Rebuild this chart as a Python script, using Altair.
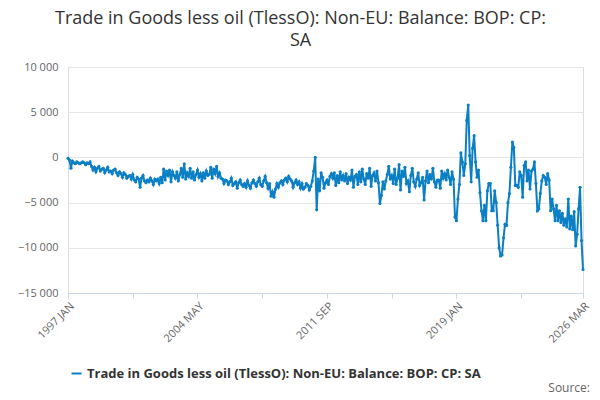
import altair as alt
import pandas as pd

title = ["Trade in Goods less oil (TlessO): Non-EU: Balance: BOP: CP:", "SA"]
series_name = "Trade in Goods less oil (TlessO): Non-EU: Balance: BOP: CP: SA"

values = [
    -100, -300, -1200, -400, -600, -700, -500, -600, -700, -600, -500, -600,
    -800, -600, -700, -500, -1000, -1400, -1100, -1600, -1200, -1000, -1500, -1300,
    -1200, -1700, -1400, -1100, -1600, -1500, -1800, -1400, -1300, -1700, -2000, -1600,
    -1800, -2200, -1700, -1900, -2300, -2100, -2000, -2400, -1900, -2500, -2700, -2200,
    -2400, -3300, -2300, -2000, -2600, -2800, -2500, -2700, -2300, -2600, -3000, -2400,
    -2600, -2400, -2900, -2200, -2800, -1300, -2500, -1500, -2000, -1400, -2700, -1600,
    -2000, -2300, -1600, -2600, -1900, -1200, -2200, -700, -2400, -1700, -2100, -1200,
    -2300, -1600, -2500, -1900, -1400, -2200, -1800, -2600, -1700, -2300, -1500, -2000,
    -1900, -1100, -2300, -1300, -1800, -1000, -2100, -1700, -2300, -2400, -2900, -2500,
    -2600, -3000, -2700, -2300, -3100, -2900, -2700, -3400, -2800, -2500, -3000, -3200,
    -2900, -3300, -2600, -3100, -3400, -2800, -2500, -2900, -3200, -2700, -2300, -3000,
    -3200, -2600, -2100, -2800, -3400, -2900, -4300, -3800, -4400, -3500, -2900, -3300,
    -2800, -2600, -3000, -2500, -2300, -2700, -2100, -2400, -2600, -3300, -2800, -2500,
    -3000, -2700, -3400, -2900, -3500, -3300, -2900, -3100, -3600, -3200, -2600, -1500,
    0, -5800, -2400, -3700, -1700, -2200, -3400, -2800, -2500, -3000, -2100, -1800,
    -2300, -1700, -3100, -2000, -2800, -1600, -2500, -2000, -2600, -1800, -2900, -2200,
    -2500, -1400, -3300, -2100, -1900, -3000, -1600, -2700, -1300, -2400, -3000, -1800,
    -2300, -1200, -3200, -2000, -1700, -2600, -1500, -2800, -5100, -4200, -2700, -3500,
    -2600, -1900, -1000, -2400, -2000, -2900, -1300, -3000, -2300, -800, -3600, -1500,
    -2100, -1100, -2900, -2600, -3800, -2000, -1200, -2700, -3200, -2400, -1700, -3100,
    -2800, -2200, -4700, -2600, -1500, -2800, -1900, -2400, -1200, -2700, -3300, -2500,
    -2500, -3400,
    -1500, -2300, -1800, -2500, -1400, -2200, -3000, -1600, -2400,
    -6600, -7000, -4600, -3000, 500, -500, -2000, -700, 4100, 5800,
    200, -2700, 1000, 2400, -500, -2200, -1400, -3900, -5900, -7000,
    -5300, -7000, -3700, -2900, -2900, -5900, -5900, -3700, -5000, -7500,
    -10000, -10900, -10800, -8900, -7400, -7500, -5000, -4000, -1100, 1700,
    1100, -3100, -3100, -3300, -1600, -2000, -4400, -900, -500, -2600,
    -1400, -3500, -1500, -1300, -500, -2900, -5900, -5700, -4000, -2600,
    -2000, -2200, -3000, -1800, -2500, -5900, -4600, -5700, -7000, -5300,
    -7000, -5900, -7200, -6200, -7500, -6800, -7700, -4600, -7900, -6500,
    -8000, -6000, -9800, -8500, -5700, -3300, -9200, -12400,
]
tick_idx = [0, 44, 88, 132, 176, 220, 264, 308, len(values) - 1]
tick_labels = {0: "1997 JAN", 88: "2004 MAY", 176: "2011 SEP", 264: "2019 JAN", len(values) - 1: "2026 MAR"}

df = pd.DataFrame({"i": range(len(values)), "v": values, "s": series_name})

label_expr = " : ".join(f"datum.value == {k} ? '{v}'" for k, v in tick_labels.items()) + " : ''"

blue = "#0b7fc4"
font = "Open Sans"
line = alt.Chart(df).mark_line(strokeWidth=2, point=alt.OverlayMarkDef(size=10, filled=True)).encode(
    x=alt.X("i:Q", scale=alt.Scale(domain=[0, len(values) - 1], nice=False),
            axis=alt.Axis(title=None, values=tick_idx, labelExpr=label_expr, labelAngle=-45,
                          grid=False, labelColor="#666", labelFontSize=11, tickColor="#ccd6eb",
                          domainColor="#ccd6eb", labelOverlap=False, labelAlign="right")),
    y=alt.Y("v:Q", scale=alt.Scale(domain=[-15000, 10000], nice=False),
            axis=alt.Axis(title=None, values=[-15000, -10000, -5000, 0, 5000, 10000],
                          labelExpr="replace(format(datum.value, ','), ',', ' ')",
                          domain=False, ticks=False, gridColor="#e6e6e6", labelColor="#666",
                          labelFontSize=11, labelPadding=10)),
    color=alt.Color("s:N", scale=alt.Scale(range=[blue]),
                    legend=alt.Legend(title=None, orient="none", legendX=2, legendY=300,
                                      labelFontSize=13, labelFontWeight="bold", labelColor="#333",
                                      symbolType="stroke", symbolStrokeWidth=2, labelLimit=600)),
)

source = alt.Chart(pd.DataFrame({"t": ["Source:"]})).mark_text(
    fontSize=12, color="#666", align="right", baseline="middle", font=font).encode(
    text="t:N", x=alt.value(522), y=alt.value(321))

chart = (line + source).properties(
    width=515, height=226, padding={"left": 60, "right": 9, "top": 59, "bottom": 99},
    autosize=alt.AutoSizeParams(type="none"),
    title=alt.TitleParams(title, fontSize=18, fontWeight="normal", color="#333", dx=-25,
                          offset=11, lineHeight=22, font=font),
).configure_view(stroke=None).configure(font=font, background="white")

chart.save("out.html", embed_options={"renderer": "svg", "actions": False})
